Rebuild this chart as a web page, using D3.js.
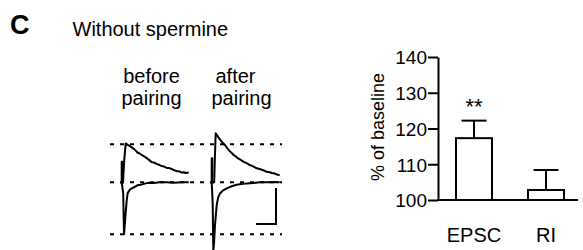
<!DOCTYPE html>
<html>
<head>
<meta charset="utf-8">
<script src="https://cdn.jsdelivr.net/npm/d3@7"></script>
<style>
  html, body { margin: 0; padding: 0; background: #fff; }
  svg { display: block; }
  text { font-family: "Liberation Sans", Arial, Helvetica, sans-serif; fill: #000; }
</style>
</head>
<body>
<svg id="chart" width="583" height="250"></svg>
<script>
// ---------- DATA ----------
const categories = ["EPSC", "RI"];
const meanValues = [117.3, 102.8];
const errorValues = [4.9, 5.6];
const significance = ["**", ""];
const yTicks = [100, 110, 120, 130, 140];

// Traces: [time ms, current (arbitrary pA)]
const beforeOutward = [[0,0],[1.3,0],[2.5,60],[4,108],[6,104],[8,101],[10,97],[12,93],[14,88],[16,82],[18,80],[20,76],[22,73],[25,67],[27,63],[30,56],[32,55],[35,51],[37,49],[40,45],[42,44],[45,40],[47,40],[50,37],[52,34],[55,31],[57,31],[60,27],[62,28],[64,26],[67,27]];
const beforeInward = [[0,0],[1.5,-30],[2.3,-144],[3,-120],[4,-85],[5,-50],[6,-30],[8,-21],[10,-17],[13,-13],[16,-8],[20,-6],[24,-3],[27,-1],[32,-2],[38,0],[45,0],[52,-1],[60,0],[67,0]];
const beforeArtifact = [[0,-5],[0,57],[0.6,57],[0.6,-5]];

const afterOutward = [[0,0],[2.5,0],[3.2,70],[4,136],[6,128],[8,120],[10,113],[12,107],[14,101],[16,93],[19,84],[22,76],[24,72],[26,67],[29,62],[32,57],[35,53],[38,48],[41,45],[45,39],[48,37],[50,35],[53,32],[55,29],[58,28],[60,26],[62,25],[64,23],[66,21],[68,20]];
const afterInward = [[0,0],[1,-60],[1.6,-192],[2.3,-170],[3.3,-119],[5,-63],[6.5,-42],[8.3,-31],[11,-23],[15,-17],[20,-11],[25,-7],[28,-5.5],[35,-3],[42,-2],[48,0],[55,0],[62,1],[68,0]];
const afterArtifact = [[0,-3],[0,67],[0.6,67],[0.6,-3]];

const dashLevels = [106, 0, -144];
const scaleBar = { ms: 20, pA: 100 };
const traceLabels = [["before", "pairing"], ["after", "pairing"]];

// ---------- DRAW ----------
const svg = d3.select("#chart");

// Titles
svg.append("text").attr("x", 10).attr("y", 34)
  .style("font-size", "27px").style("font-weight", "bold").text("C");
svg.append("text").attr("x", 72.5).attr("y", 36)
  .style("font-size", "20px").text("Without spermine");

const labelX = [[151.5, 151.5], [235.5, 241.5]];
traceLabels.forEach((lines, j) => {
  lines.forEach((l, i) => {
    svg.append("text").attr("x", labelX[j][i]).attr("y", 83 + i * 22)
      .attr("text-anchor", "middle").style("font-size", "20px").text(l);
  });
});

// Trace scales
const ampScale = d3.scaleLinear().domain([0, 100]).range([182.3, 146.3]);
const tBefore = d3.scaleLinear().domain([0, 20]).range([121.7, 141.7]);
const tAfter = d3.scaleLinear().domain([0, 20]).range([211.7, 231.7]);

// Dashed lines
svg.append("g").selectAll("line").data(dashLevels).join("line")
  .attr("x1", 110).attr("x2", 282)
  .attr("y1", d => ampScale(d)).attr("y2", d => ampScale(d))
  .attr("stroke", "#000").attr("stroke-width", 2)
  .attr("stroke-dasharray", "4,6");

function trace(data, xs, width) {
  const line = d3.line().x(d => xs(d[0])).y(d => ampScale(d[1]));
  svg.append("path").datum(data).attr("d", line)
    .attr("fill", "none").attr("stroke", "#000")
    .attr("stroke-width", width).attr("stroke-linejoin", "round");
}
trace(beforeArtifact, tBefore, 2);
trace(beforeOutward, tBefore, 2);
trace(beforeInward, tBefore, 2);
trace(afterArtifact, tAfter, 2);
trace(afterOutward, tAfter, 2);
trace(afterInward, tAfter, 2);

// Scale bar
const sbX = tAfter(64.3), sbY = ampScale(-116);
svg.append("path")
  .attr("d", `M${sbX - (tAfter(scaleBar.ms) - tAfter(0))},${sbY}H${sbX}V${sbY - (ampScale(0) - ampScale(scaleBar.pA))}`)
  .attr("fill", "none").attr("stroke", "#000").attr("stroke-width", 2);

// Bar chart
const y = d3.scaleLinear().domain([100, 140]).range([200, 57]);
const x = d3.scaleBand().domain(categories).range([438, 582]).paddingInner(0.5).paddingOuter(0.25);

const g = svg.append("g");
const yAxis = d3.axisLeft(y).tickValues(yTicks).tickSize(10).tickPadding(1).tickSizeOuter(0);
const ya = g.append("g").attr("transform", "translate(438,0)").call(yAxis);
ya.select(".domain").attr("stroke-width", 2);
ya.selectAll(".tick line").attr("stroke-width", 2);
ya.selectAll(".tick text").style("font-size", "19px").style("font-family", "'Liberation Sans', Arial, sans-serif").attr("dy", "0.36em");

// bars
g.selectAll("rect.bar").data(categories).join("rect")
  .attr("class", "bar")
  .attr("x", d => x(d)).attr("width", x.bandwidth())
  .attr("y", (d, i) => y(meanValues[i]))
  .attr("height", (d, i) => y(100) - y(meanValues[i]))
  .attr("fill", "#fff").attr("stroke", "#000").attr("stroke-width", 2);

// baseline
g.append("line").attr("x1", 437).attr("x2", 578).attr("y1", y(100)).attr("y2", y(100))
  .attr("stroke", "#000").attr("stroke-width", 2);

// error bars
categories.forEach((c, i) => {
  const cx = x(c) + x.bandwidth() / 2;
  g.append("line").attr("x1", cx).attr("x2", cx)
    .attr("y1", y(meanValues[i])).attr("y2", y(meanValues[i] + errorValues[i]))
    .attr("stroke", "#000").attr("stroke-width", 2);
  g.append("line").attr("x1", cx - 12.5).attr("x2", cx + 12.5)
    .attr("y1", y(meanValues[i] + errorValues[i])).attr("y2", y(meanValues[i] + errorValues[i]))
    .attr("stroke", "#000").attr("stroke-width", 2);
  if (significance[i]) {
    g.append("text").attr("x", cx).attr("y", y(meanValues[i] + errorValues[i]) - 7)
      .attr("text-anchor", "middle").style("font-size", "22px").text(significance[i]);
  }
  g.append("text").attr("x", cx).attr("y", 242)
    .attr("text-anchor", "middle").style("font-size", "20px").text(c);
});

// y label
svg.append("text").attr("transform", "translate(384,127) rotate(-90)")
  .attr("text-anchor", "middle").style("font-size", "18px").text("% of baseline");
</script>
</body>
</html>
